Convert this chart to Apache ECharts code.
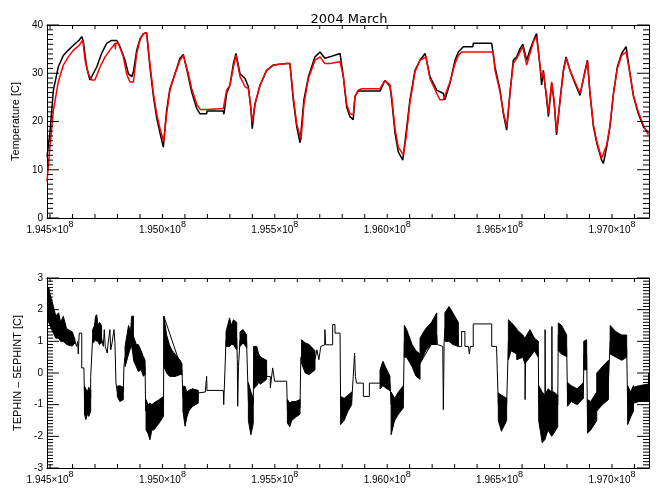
<!DOCTYPE html>
<html><head><meta charset="utf-8">
<script src="https://cdn.jsdelivr.net/npm/echarts@6/dist/echarts.min.js"></script>
<style>html,body{margin:0;padding:0;background:#fff}#c{width:660px;height:495px}</style>
</head><body><div id="c"></div>
<script>
// time origin: 2004-03-01 (seconds since 1998.0); data x given in days of March
const T0 = 194486400;
const DAY = 86400;
const monthDays = 31;
// tick positions (units of 1e5 s) and labelled ticks (s)
const xTickUnits = [1945,1946,1947,1948,1949,1950,1951,1952,1953,1954,1955,1956,1957,1958,1959,1960,1961,1962,1963,1964,1965,1966,1967,1968,1969,1970,1971];
const xLabelValues = [194500000,195000000,195500000,196000000,196500000,197000000];
const tempMajor = [0,10,20,30,40];
const diffMajor = [-3,-2,-1,0,1,2,3];

// [day, temperature C]
const tephin = [[0,12.7],[0.15,17.6],[0.33,26.5],[0.58,31.3],[0.84,33.7],[1.10,34.8],[1.36,35.8],[1.66,36.9],[1.79,37.6],[1.87,36.6],[2.04,31.3],[2.21,28.6],[2.30,28.2],[2.56,31.3],[2.81,34.1],[3.07,36.2],[3.33,36.8],[3.59,36.8],[3.76,35.5],[4.02,32.7],[4.19,29.9],[4.36,29.3],[4.45,30.3],[4.62,34.8],[4.79,37.1],[4.96,38.2],[5.13,38.4],[5.22,38.4],[5.30,31.3],[5.48,25.2],[5.65,20.7],[5.82,17.6],[5.99,14.7],[6.16,22.3],[6.33,26.8],[6.59,29.9],[6.85,33.1],[7.02,33.9],[7.11,33.6],[7.28,29.3],[7.45,26.1],[7.71,22.7],[7.88,21.6],[8.22,21.6],[8.24,22.2],[9.08,22.2],[9.11,21.5],[9.25,25.8],[9.42,27.5],[9.60,32.0],[9.73,34.1],[9.94,29.9],[10.20,28.9],[10.37,27.2],[10.49,23.0],[10.57,18.5],[10.71,23.6],[10.97,27.5],[11.31,30.6],[11.65,31.7],[12.34,32.0],[12.51,32.0],[12.68,24.5],[12.86,18.9],[13.03,15.6],[13.23,24.5],[13.46,29.3],[13.80,33.4],[14.06,34.4],[14.31,33.1],[14.57,33.4],[15.09,34.1],[15.26,29.3],[15.43,23.0],[15.60,21.0],[15.77,20.4],[15.86,25.2],[16.03,26.3],[17.15,26.3],[17.40,28.5],[17.66,27.3],[17.75,24.5],[17.92,17.6],[18.09,13.7],[18.32,12.0],[18.49,17.6],[18.69,24.5],[18.95,30.6],[19.21,32.7],[19.47,34.1],[19.72,29.3],[20.07,26.5],[20.41,25.8],[20.49,24.5],[20.75,27.9],[21.01,32.7],[21.18,34.4],[21.44,35.5],[21.93,35.5],[21.95,36.2],[22.90,36.2],[23.07,31.3],[23.33,26.5],[23.50,21.6],[23.67,18.2],[23.84,25.8],[24.01,32.7],[24.19,33.4],[24.36,35.1],[24.50,36.0],[24.70,32.7],[24.87,34.8],[25.08,37.1],[25.21,38.2],[25.39,31.3],[25.47,27.6],[25.56,30.6],[25.73,24.5],[25.82,21.0],[25.99,27.9],[26.11,24.2],[26.24,17.2],[26.42,24.5],[26.59,30.6],[26.73,33.4],[26.93,30.6],[27.19,27.9],[27.45,25.4],[27.53,25.2],[27.71,30.6],[27.83,32.7],[27.96,25.8],[28.14,18.9],[28.31,15.5],[28.56,12.0],[28.65,11.3],[28.82,14.7],[28.99,18.9],[29.17,25.8],[29.37,31.3],[29.59,34.1],[29.82,35.5],[30.02,29.9],[30.20,25.2],[30.45,21.6],[30.71,18.9],[30.97,17.6]];

const ephint = [[0,7.5],[0.15,14.7],[0.33,22.3],[0.58,28.2],[0.84,31.7],[1.10,33.4],[1.36,34.8],[1.66,35.8],[1.84,36.9],[1.96,32.7],[2.13,29.9],[2.30,28.6],[2.47,28.6],[2.73,31.3],[2.99,33.4],[3.24,34.8],[3.50,36.2],[3.52,35.0],[3.54,36.2],[3.67,36.2],[3.93,33.4],[4.10,29.9],[4.27,28.2],[4.45,28.2],[4.62,34.1],[4.79,36.9],[4.96,38.2],[5.13,38.4],[5.30,32.0],[5.48,25.8],[5.65,21.6],[5.82,18.5],[6.01,15.8],[6.16,21.6],[6.33,26.5],[6.59,29.9],[6.85,32.7],[7.02,33.7],[7.11,33.6],[7.28,29.9],[7.45,26.8],[7.71,23.6],[7.88,22.5],[8.22,22.5],[8.24,22.7],[9.08,22.7],[9.25,26.5],[9.42,27.5],[9.60,31.3],[9.73,33.7],[9.94,29.3],[10.20,27.2],[10.37,26.8],[10.49,23.0],[10.57,19.8],[10.71,23.6],[10.97,27.5],[11.31,30.6],[11.65,31.7],[12.34,32.0],[12.51,32.0],[12.68,25.2],[12.86,19.5],[13.08,16.2],[13.23,23.6],[13.46,28.9],[13.80,32.7],[14.06,33.4],[14.31,32.0],[14.57,32.0],[15.09,32.4],[15.26,29.3],[15.43,23.6],[15.60,21.6],[15.77,21.4],[15.86,25.2],[16.03,26.5],[16.20,26.8],[17.15,26.8],[17.40,28.5],[17.66,27.6],[17.75,25.2],[17.92,18.5],[18.09,14.7],[18.35,13.1],[18.49,16.6],[18.69,23.9],[18.95,30.3],[19.21,32.7],[19.52,33.4],[19.72,28.9],[20.07,25.8],[20.23,24.5],[20.41,24.5],[20.49,25.4],[20.75,28.2],[21.01,32.0],[21.18,33.7],[21.35,34.4],[22.98,34.4],[23.07,30.6],[23.33,26.1],[23.50,22.0],[23.67,18.9],[23.84,25.8],[24.01,32.0],[24.19,33.1],[24.36,34.4],[24.50,35.5],[24.70,31.7],[24.87,34.1],[25.08,36.9],[25.21,37.6],[25.39,31.7],[25.47,28.9],[25.56,30.3],[25.73,25.2],[25.82,21.6],[25.99,28.2],[26.11,24.5],[26.24,17.8],[26.42,24.2],[26.59,30.3],[26.73,33.1],[26.93,30.6],[27.19,28.2],[27.45,25.8],[27.53,25.4],[27.71,30.3],[27.83,32.4],[27.96,26.1],[28.14,19.2],[28.31,15.9],[28.56,12.4],[28.65,12.4],[28.82,15.1],[28.99,19.2],[29.17,25.8],[29.37,31.0],[29.59,33.7],[29.82,34.4],[30.02,29.9],[30.20,25.4],[30.45,22.0],[30.71,19.2],[30.97,17.2]];

// TEPHIN - 5EPHINT: quiet trace [day, C]
const diffTrace = [[0,2.2],[1.44,1.0],[1.52,0.84],[1.58,1.0],[1.61,0.6],[1.64,1.0],[1.66,1.26],[1.79,1.26],[1.79,0.16],[1.90,0.16],[1.93,-0.8],[2.25,-0.8],[2.25,-0.11],[2.33,-0.11],[2.35,1.1],[2.81,1.1],[2.9,0.84],[2.95,1.37],[3.0,0.84],[3.1,0.63],[3.15,0.95],[3.24,1.37],[3.28,0.73],[3.35,0.95],[3.45,1.37],[3.5,0.95],[3.55,-0.32],[3.62,-0.6],[3.93,-0.6],[3.96,0.21],[4.02,0.5],[4.45,1.0],[5.05,0.2],[5.08,-1.2],[6.0,-1.0],[6.02,1.79],[6.95,0.1],[7.0,-0.8],[7.79,-0.63],[8.15,-0.6],[8.22,-0.11],[8.24,-0.55],[9.08,-0.55],[9.10,-1.0],[9.18,-1.0],[9.22,1.05],[9.77,1.1],[9.80,0.42],[9.82,-1.05],[9.86,0.2],[9.94,1.05],[10.28,1.0],[10.30,0.5],[10.37,-0.9],[10.62,-1.0],[10.64,0.2],[11.31,0.1],[11.31,-0.11],[11.5,-0.11],[11.5,-0.47],[11.6,-0.47],[11.62,0.16],[11.72,0.16],[11.72,-0.26],[12.34,-0.26],[12.38,-1.2],[13.03,-1.1],[13.07,0.5],[13.8,0.42],[13.9,0.73],[14.0,0.42],[14.1,0.84],[14.3,0.89],[14.31,1.37],[14.35,0.89],[14.71,0.89],[14.71,1.53],[14.83,1.53],[14.83,1.26],[15.09,1.26],[15.12,-1.0],[15.69,-0.9],[15.77,-0.11],[15.84,0.63],[15.88,-0.11],[15.94,-0.32],[16.29,-0.32],[16.29,-0.74],[16.60,-0.74],[16.60,-0.32],[17.15,-0.32],[17.66,-0.3],[17.72,-1.0],[18.35,-0.8],[18.40,1.0],[19.21,0.3],[20.07,1.2],[20.10,0.9],[20.38,0.84],[20.41,-1.16],[20.45,1.0],[20.49,1.4],[21.18,1.2],[21.18,0.84],[21.35,0.84],[21.35,1.31],[21.52,1.31],[21.52,0.84],[21.7,0.84],[21.75,0.6],[21.8,0.84],[21.95,0.84],[21.95,1.55],[22.90,1.55],[22.90,0.84],[23.15,0.84],[23.24,-1.0],[23.67,-1.0],[23.76,1.0],[24.19,1.0],[24.61,0.7],[24.62,-0.84],[24.65,0.8],[25.30,0.7],[25.32,-1.0],[25.64,-1.2],[25.65,1.37],[25.67,-1.2],[25.99,-1.2],[26.0,1.47],[26.02,-1.2],[26.3,-1.0],[26.33,1.2],[26.76,0.8],[26.80,-0.6],[27.62,-0.6],[27.65,0.6],[27.79,0.6],[27.83,-1.3],[28.31,-1.0],[28.91,-0.3],[29.0,1.0],[29.85,0.8],[29.9,-1.0],[30.2,-0.8],[30.97,-0.6],[30.98,0.0]];

// noisy stretches: envelope points [day, upper, lower]
const diffBands = [
 [[0,2.63,1.79],[0.1,2.7,1.6],[0.15,2.5,1.5],[0.33,2.1,1.26],[0.45,1.8,1.1],[0.6,1.9,1.1],[0.7,1.6,1.0],[0.84,1.79,1.0],[1.01,1.4,0.9],[1.3,1.3,0.85],[1.44,1.05,0.95]],
 [[1.93,-0.42,-1.3],[2.0,-0.5,-1.47],[2.08,-0.6,-1.3],[2.15,-0.45,-1.37],[2.25,-0.55,-1.2]],
 [[2.35,1.37,0.95],[2.45,1.5,1.0],[2.5,1.79,1.05],[2.56,1.84,1.0],[2.62,1.5,1.0],[2.7,1.6,0.9],[2.81,1.5,0.95]],
 [[3.62,-0.42,-0.74],[3.75,-0.4,-0.9],[3.93,-0.45,-0.84]],
 [[4.02,0.84,0.2],[4.2,1.5,0.6],[4.3,1.3,0.8],[4.36,1.79,0.84],[4.45,1.8,0.5]],
 [[4.45,1.16,0.4],[4.6,0.9,0.2],[4.7,0.9,0.05],[4.85,0.7,0.1],[4.96,0.52,-0.1],[5.05,0.4,-0.05]],
 [[5.10,-0.84,-1.8],[5.2,-1.0,-1.9],[5.3,-0.95,-2.11],[5.4,-1.0,-1.8],[5.5,-0.95,-1.8],[5.75,-0.85,-1.6],[6.0,-0.74,-1.37]],
 [[6.02,1.79,0.2],[6.16,1.2,0.0],[6.3,0.9,-0.1],[6.42,0.73,-0.11],[6.59,0.6,-0.11],[6.85,0.4,-0.05],[6.95,0.3,-0.05]],
 [[7.0,-0.42,-1.2],[7.11,-0.42,-1.68],[7.2,-0.6,-1.4],[7.3,-0.55,-1.2],[7.5,-0.5,-1.05],[7.79,-0.55,-0.95]],
 [[9.22,1.3,0.84],[9.4,1.74,0.84],[9.5,1.5,0.9],[9.6,1.68,0.9],[9.77,1.6,0.73]],
 [[9.94,1.3,0.84],[10.1,1.37,0.95],[10.28,1.2,0.8]],
 [[10.37,-0.3,-1.5],[10.5,-0.6,-1.95],[10.62,-0.8,-1.6]],
 [[10.64,0.84,-0.5],[10.8,0.84,-0.4],[10.9,0.6,-0.3],[11.0,0.5,-0.35],[11.31,0.4,-0.2]],
 [[12.38,-0.84,-1.58],[12.5,-0.95,-1.7],[12.6,-0.9,-1.5],[12.8,-0.9,-1.4],[13.03,-0.84,-1.3]],
 [[13.11,1.05,0.3],[13.3,0.95,0.0],[13.5,0.9,-0.05],[13.8,0.7,0.1]],
 [[15.12,-0.74,-1.63],[15.3,-0.8,-1.5],[15.5,-0.7,-1.2],[15.69,-0.6,-1.0]],
 [[17.15,0.1,-0.5],[17.3,0.37,-0.4],[17.5,0.1,-0.5],[17.66,-0.1,-0.55]],
 [[17.72,-0.6,-1.95],[17.9,-0.8,-1.5],[18.1,-0.6,-1.3],[18.35,-0.4,-1.1]],
 [[18.40,1.5,0.5],[18.52,1.37,0.5],[18.8,0.9,0.2],[19.0,0.7,-0.1],[19.21,0.6,-0.2]],
 [[19.21,1.1,0.3],[19.5,1.4,0.7],[19.8,1.6,0.9],[20.07,1.9,0.9]],
 [[20.49,1.9,1.0],[20.7,2.1,1.0],[20.9,1.9,0.9],[21.18,1.6,0.84]],
 [[23.24,-0.63,-1.5],[23.4,-0.7,-1.84],[23.67,-0.8,-1.5]],
 [[23.76,1.68,0.42],[23.9,1.6,0.7],[24.19,1.4,0.6]],
 [[24.19,1.37,0.42],[24.5,1.2,0.5],[24.61,1.1,0.3],[24.87,1.37,0.5],[25.1,1.1,0.7],[25.30,1.0,0.5]],
 [[25.32,-0.4,-1.5],[25.5,-0.6,-2.2],[25.64,-0.7,-2.1],[25.8,-0.5,-1.8],[25.99,-0.6,-2.0],[26.1,-0.6,-1.9],[26.30,-0.7,-1.7]],
 [[26.33,1.58,0.7],[26.5,1.5,0.6],[26.76,1.2,0.52]],
 [[26.80,-0.3,-1.05],[27.0,-0.4,-0.9],[27.3,-0.5,-1.0],[27.62,-0.3,-0.8]],
 [[27.64,1.0,0.1],[27.79,1.05,0.1]],
 [[27.83,-0.84,-1.9],[28.0,-0.9,-1.8],[28.31,-0.6,-1.5]],
 [[28.31,0.0,-1.2],[28.6,0.2,-1.0],[28.91,0.4,-0.84]],
 [[29.0,1.5,0.6],[29.3,1.3,0.5],[29.6,1.2,0.4],[29.85,1.2,0.5]],
 [[29.9,-0.4,-1.63],[30.05,-0.6,-1.4],[30.2,-0.4,-1.2]],
 [[30.2,-0.45,-0.95],[30.5,-0.4,-0.9],[30.97,-0.35,-0.9]]
];

const toSec = d => T0 + d * DAY;
const FONT = 'Liberation Sans';
const xTicks = xTickUnits.map(u => u * 1e5);
const X_MIN = T0, X_MAX = T0 + monthDays * DAY;
const PLOT_W = 602;
const GRIDS = [
  { left: 47, top: 25, width: PLOT_W, height: 193, yMin: 0, yMax: 40, major: tempMajor },
  { left: 47, top: 278, width: PLOT_W, height: 190, yMin: -3, yMax: 3, major: diffMajor }
];

// minor y ticks: ten per major interval
function minorsOf(major) {
  const out = [];
  for (let i = 0; i < major.length - 1; i++) {
    const step = (major[i + 1] - major[i]) / 10;
    for (let k = 1; k < 10; k++) out.push(+(major[i] + k * step).toFixed(4));
  }
  return out;
}

// inward tick marks as short segments in data units (length in px converted by axis extent)
function tickSegments(g) {
  const segs = [];
  const gap = ['-', '-'];
  const yPerPx = (g.yMax - g.yMin) / g.height;
  const xPerPx = (X_MAX - X_MIN) / g.width;
  xTicks.forEach(v => {
    segs.push([v, g.yMin], [v, g.yMin + 4 * yPerPx], gap);
    segs.push([v, g.yMax], [v, g.yMax - 4 * yPerPx], gap);
  });
  const addY = (v, len) => {
    segs.push([X_MIN, v], [X_MIN + len * xPerPx, v], gap);
    segs.push([X_MAX, v], [X_MAX - len * xPerPx, v], gap);
  };
  g.major.forEach(v => addY(v, 12));
  minorsOf(g.major).forEach(v => addY(v, 6));
  return segs;
}

function xAxisDef(gridIndex, pos, labels) {
  const ax = {
    type: 'value', gridIndex: gridIndex, position: pos,
    min: X_MIN, max: X_MAX,
    axisLine: { show: true, onZero: false, lineStyle: { color: '#000' } },
    axisTick: { show: false },
    splitLine: { show: false },
    axisLabel: { show: false }
  };
  if (labels) {
    ax.axisLabel = {
      show: true, customValues: xLabelValues, margin: 2, color: '#000',
      formatter: v => '{m|' + (v / 1e8).toFixed(3) + '\u00d710}{s|8}',
      rich: {
        m: { fontSize: 10, fontFamily: FONT, color: '#000' },
        s: { fontSize: 9, fontFamily: FONT, color: '#000', padding: [0, 0, 11, 0] }
      }
    };
  }
  return ax;
}
function yAxisDef(gridIndex, pos, name, gap, labels) {
  const g = GRIDS[gridIndex];
  const ax = {
    type: 'value', gridIndex: gridIndex, position: pos,
    min: g.yMin, max: g.yMax, interval: g.major[1] - g.major[0],
    axisLine: { show: true, onZero: false, lineStyle: { color: '#000' } },
    axisTick: { show: false },
    splitLine: { show: false },
    axisLabel: { show: false }
  };
  if (labels) {
    ax.axisLabel = { show: true, margin: 4, color: '#000', fontSize: 10, fontFamily: FONT };
    ax.name = name;
    ax.nameLocation = 'middle';
    ax.nameGap = gap;
    ax.nameTextStyle = { color: '#000', fontSize: 11, fontFamily: FONT };
  }
  return ax;
}

const chart = echarts.init(document.getElementById('c'));
chart.setOption({
  animation: false,
  backgroundColor: '#fff',
  title: { text: '2004 March', left: 344, top: 8, textAlign: 'center',
    textStyle: { fontSize: 13, fontWeight: 'normal', color: '#000', fontFamily: 'DejaVu Sans' } },
  grid: GRIDS.map(g => ({ left: g.left, top: g.top, width: g.width, height: g.height })),
  xAxis: [xAxisDef(0, 'bottom', true), xAxisDef(0, 'top', false), xAxisDef(1, 'bottom', true), xAxisDef(1, 'top', false)],
  yAxis: [
    yAxisDef(0, 'left', 'Temperature [C]', 17, true),
    yAxisDef(0, 'right', '', 0, false),
    yAxisDef(1, 'left', 'TEPHIN \u2013 5EPHINT [C]', 20, true),
    yAxisDef(1, 'right', '', 0, false)
  ],
  series: [
    { type: 'line', xAxisIndex: 0, yAxisIndex: 0, data: tephin.map(p => [toSec(p[0]), p[1]]),
      showSymbol: false, lineStyle: { color: '#000', width: 1.5 }, z: 2 },
    { type: 'line', xAxisIndex: 0, yAxisIndex: 0, data: ephint.map(p => [toSec(p[0]), p[1]]),
      showSymbol: false, lineStyle: { color: '#ff0000', width: 1.5 }, z: 3 },
    { type: 'line', xAxisIndex: 2, yAxisIndex: 2, data: diffTrace.map(p => [toSec(p[0]), p[1]]),
      showSymbol: false, lineStyle: { color: '#000', width: 1 }, z: 2 },
    { type: 'custom', xAxisIndex: 2, yAxisIndex: 2, clip: true, z: 3,
      dimensions: ['x', 'y'],
      data: diffBands.map(b => [toSec(b[0][0]), b[0][1]]),
      encode: { x: 0, y: 1 },
      renderItem: function (params, api) {
        const band = diffBands[params.dataIndex];
        if (!band) return null;
        const pts = [];
        for (let k = 0; k < band.length; k++) pts.push(api.coord([toSec(band[k][0]), band[k][1]]));
        for (let k = band.length - 1; k >= 0; k--) pts.push(api.coord([toSec(band[k][0]), band[k][2]]));
        return { type: 'polygon', shape: { points: pts }, style: { fill: '#000', stroke: '#000', lineWidth: 1 } };
      }
    },
    { type: 'line', xAxisIndex: 0, yAxisIndex: 0, data: tickSegments(GRIDS[0]), silent: true,
      showSymbol: false, connectNulls: false, clip: false, lineStyle: { color: '#000', width: 1 }, z: 6 },
    { type: 'line', xAxisIndex: 2, yAxisIndex: 2, data: tickSegments(GRIDS[1]), silent: true,
      showSymbol: false, connectNulls: false, clip: false, lineStyle: { color: '#000', width: 1 }, z: 6 }
  ]
});
</script>
</body></html>
